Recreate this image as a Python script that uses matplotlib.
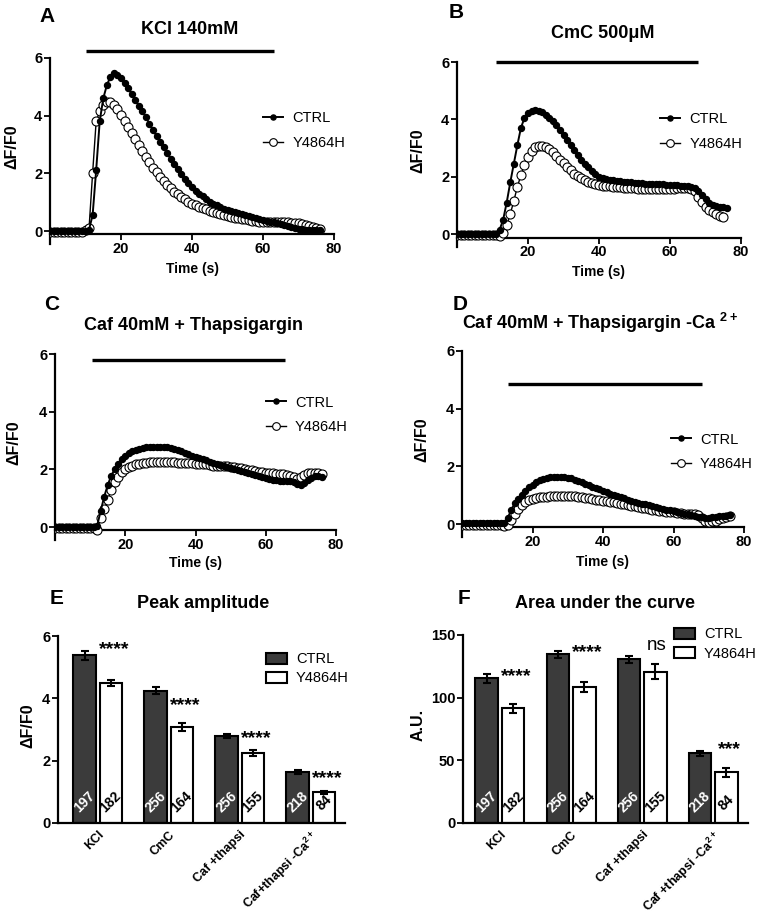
import matplotlib.pyplot as plt
from matplotlib.patches import Patch
from matplotlib.transforms import blended_transform_factory

plt.rcParams["font.family"] = ["Liberation Sans", "DejaVu Sans"]
plt.rcParams["mathtext.fontset"] = "custom"
plt.rcParams["mathtext.rm"] = "Liberation Sans"
plt.rcParams["mathtext.bf"] = "Liberation Sans:bold"
plt.rcParams["mathtext.default"] = "bf"

# ============================================
# DATA - calcium transients (dF/F0 vs time)
# ============================================

time_s = [0, 1, 2, 3, 4, 5, 6, 7, 8, 9, 10, 11, 12, 13, 14, 15, 16, 17, 18, 19,
          20, 21, 22, 23, 24, 25, 26, 27, 28, 29, 30, 31, 32, 33, 34, 35, 36, 37, 38, 39,
          40, 41, 42, 43, 44, 45, 46, 47, 48, 49, 50, 51, 52, 53, 54, 55, 56, 57, 58, 59,
          60, 61, 62, 63, 64, 65, 66, 67, 68, 69, 70, 71, 72, 73, 74, 75, 76]

kcl_ctrl = [0.0, 0.0, 0.0, 0.0, 0.0, 0.0, 0.0, 0.0, 0.0, 0.0, 0.0, 0.05, 0.55, 2.1, 3.8, 4.6,
            5.05, 5.35, 5.47, 5.42, 5.3, 5.12, 4.95, 4.75, 4.55, 4.35, 4.15, 3.95, 3.72, 3.5,
            3.3, 3.1, 2.9, 2.7, 2.5, 2.32, 2.15, 1.98, 1.82, 1.67, 1.52, 1.4, 1.3, 1.2, 1.1,
            1.02, 0.95, 0.89, 0.83, 0.78, 0.73, 0.69, 0.65, 0.61, 0.58, 0.55, 0.51, 0.48, 0.45,
            0.42, 0.39, 0.36, 0.33, 0.3, 0.27, 0.24, 0.21, 0.18, 0.15, 0.11, 0.08, 0.06, 0.05,
            0.04, 0.03, 0.03, 0.02]
kcl_mut = [-0.03, -0.03, -0.03, -0.03, -0.03, -0.03, -0.03, -0.03, -0.03, -0.03, 0.05, 0.1,
           2.0, 3.8, 4.15, 4.37, 4.48, 4.47, 4.38, 4.22, 4.02, 3.82, 3.62, 3.4, 3.18, 2.98,
           2.78, 2.57, 2.38, 2.2, 2.03, 1.88, 1.73, 1.6, 1.48, 1.37, 1.27, 1.18, 1.1, 1.02,
           0.95, 0.9, 0.85, 0.8, 0.75, 0.7, 0.66, 0.62, 0.58, 0.55, 0.52, 0.49, 0.46, 0.44,
           0.42, 0.4, 0.38, 0.36, 0.34, 0.33, 0.32, 0.31, 0.3, 0.3, 0.3, 0.3, 0.3, 0.3, 0.29,
           0.28, 0.27, 0.25, 0.22, 0.18, 0.14, 0.1, 0.07]

cmc_ctrl = [0.02, 0.02, 0.02, 0.02, 0.02, 0.02, 0.02, 0.02, 0.02, 0.02, 0.02, 0.02, 0.15, 0.5,
            1.1, 1.8, 2.45, 3.1, 3.7, 4.05, 4.22, 4.3, 4.32, 4.3, 4.24, 4.15, 4.05, 3.95, 3.8,
            3.63, 3.45, 3.28, 3.1, 2.93, 2.76, 2.6, 2.46, 2.33, 2.2, 2.08, 1.98, 1.94, 1.91,
            1.89, 1.87, 1.86, 1.84, 1.82, 1.81, 1.8, 1.79, 1.78, 1.77, 1.76, 1.76, 1.75, 1.74,
            1.73, 1.73, 1.72, 1.72, 1.71, 1.7, 1.69, 1.68, 1.66, 1.64, 1.6, 1.5, 1.36, 1.22,
            1.1, 1.03, 0.98, 0.95, 0.93, 0.92]
cmc_mut = [-0.03, -0.03, -0.03, -0.03, -0.03, -0.03, -0.03, -0.03, -0.03, -0.03, -0.03, -0.03,
           -0.05, 0.05, 0.3, 0.7, 1.15, 1.65, 2.05, 2.42, 2.7, 2.9, 3.02, 3.08, 3.07, 3.02,
           2.95, 2.85, 2.72, 2.6, 2.47, 2.35, 2.22, 2.11, 2.02, 1.94, 1.88, 1.82, 1.77, 1.73,
           1.7, 1.68, 1.67, 1.66, 1.65, 1.64, 1.63, 1.62, 1.61, 1.6, 1.59, 1.58, 1.57, 1.56,
           1.56, 1.56, 1.56, 1.56, 1.56, 1.57, 1.57, 1.58, 1.59, 1.6, 1.6, 1.6, 1.58, 1.5,
           1.3, 1.12, 0.96, 0.84, 0.76, 0.7, 0.64, 0.58]

caf_ctrl = [0.0, 0.0, 0.0, 0.0, 0.0, 0.0, 0.0, 0.0, 0.0, 0.0, 0.0, 0.0, 0.05, 0.55, 1.05, 1.45,
            1.78, 2.0, 2.2, 2.36, 2.48, 2.56, 2.62, 2.67, 2.71, 2.74, 2.76, 2.78, 2.79, 2.79,
            2.79, 2.78, 2.76, 2.73, 2.7, 2.66, 2.62, 2.58, 2.53, 2.48, 2.43, 2.39, 2.35, 2.31,
            2.27, 2.23, 2.19, 2.15, 2.12, 2.08, 2.05, 2.01, 1.97, 1.94, 1.9, 1.87, 1.83, 1.8,
            1.76, 1.73, 1.69, 1.66, 1.64, 1.62, 1.61, 1.6, 1.6, 1.59, 1.55, 1.49, 1.47, 1.52,
            1.62, 1.71, 1.77, 1.77, 1.74]
caf_mut = [-0.03, -0.03, -0.03, -0.03, -0.03, -0.03, -0.03, -0.03, -0.03, -0.03, -0.03, -0.03,
           -0.09, 0.3, 0.62, 0.95, 1.28, 1.55, 1.75, 1.9, 2.01, 2.08, 2.13, 2.17, 2.2, 2.22,
           2.23, 2.24, 2.25, 2.25, 2.25, 2.25, 2.25, 2.24, 2.24, 2.23, 2.23, 2.22, 2.22, 2.21,
           2.2, 2.19, 2.18, 2.17, 2.15, 2.13, 2.12, 2.11, 2.1, 2.1, 2.09, 2.08, 2.06, 2.03,
           2.01, 1.99, 1.97, 1.95, 1.92, 1.9, 1.88, 1.87, 1.86, 1.85, 1.84, 1.83, 1.81, 1.77,
           1.72, 1.68, 1.74, 1.8, 1.86, 1.88, 1.89, 1.87, 1.84]

cafca_ctrl = [0.02, 0.02, 0.02, 0.02, 0.02, 0.02, 0.02, 0.02, 0.02, 0.02, 0.02, 0.02, 0.02,
              0.22, 0.5, 0.72, 0.88, 1.02, 1.15, 1.27, 1.37, 1.45, 1.51, 1.56, 1.59, 1.62,
              1.63, 1.64, 1.64, 1.63, 1.61, 1.58, 1.54, 1.5, 1.45, 1.4, 1.35, 1.3, 1.25, 1.2,
              1.15, 1.1, 1.05, 1.01, 0.97, 0.93, 0.89, 0.85, 0.81, 0.78, 0.74, 0.71, 0.68,
              0.65, 0.62, 0.59, 0.56, 0.53, 0.5, 0.47, 0.44, 0.41, 0.38, 0.36, 0.34, 0.31,
              0.29, 0.26, 0.23, 0.22, 0.22, 0.23, 0.25, 0.27, 0.28, 0.29, 0.31]
cafca_mut = [-0.02, -0.02, -0.02, -0.02, -0.02, -0.02, -0.02, -0.02, -0.02, -0.02, -0.02,
             -0.02, -0.06, -0.02, 0.14, 0.35, 0.52, 0.65, 0.75, 0.82, 0.86, 0.89, 0.92, 0.94,
             0.95, 0.96, 0.97, 0.98, 0.98, 0.98, 0.97, 0.97, 0.96, 0.95, 0.93, 0.91, 0.89,
             0.87, 0.85, 0.83, 0.81, 0.79, 0.77, 0.75, 0.73, 0.7, 0.68, 0.65, 0.63, 0.61,
             0.58, 0.56, 0.54, 0.52, 0.5, 0.48, 0.46, 0.45, 0.43, 0.41, 0.4, 0.38, 0.37, 0.36,
             0.35, 0.35, 0.34, 0.32, 0.22, 0.12, 0.08, 0.09, 0.12, 0.16, 0.2, 0.24, 0.28]

# stimulus application (start s, end s, drawn level)
kcl_stim = [10, 63, 6.25]
cmc_stim = [11, 68, 6.0]
caf_stim = [10.5, 65.5, 5.8]
cafca_stim = [13, 68, 4.85]

# ============================================
# DATA - summary bars
# ============================================

conditions_e = ["KCl", "CmC", "Caf +thapsi", "Caf+thapsi -Ca$^{2+}$"]
conditions_f = ["KCl", "CmC", "Caf +thapsi", "Caf +thapsi -Ca$^{2+}$"]

peak_ctrl = [5.38, 4.25, 2.78, 1.63]
peak_ctrl_err = [0.15, 0.12, 0.06, 0.06]
peak_mut = [4.5, 3.07, 2.25, 0.99]
peak_mut_err = [0.1, 0.13, 0.1, 0.05]
peak_sig = ["****", "****", "****", "****"]
peak_sig_y = [5.43, 3.63, 2.57, 1.29]

auc_ctrl = [115.5, 134.5, 130.5, 55.5]
auc_ctrl_err = [3.5, 2.5, 3.0, 2.0]
auc_mut = [91.5, 108.5, 120.5, 40.5]
auc_mut_err = [3.5, 4.0, 6.0, 3.5]
auc_sig = ["****", "****", "ns", "***"]
auc_sig_y = [113.2, 132.2, 138.3, 55.2]

n_ctrl = [197, 256, 256, 218]
n_mut = [182, 164, 155, 84]

# ============================================
# FIGURE
# ============================================

W, H = 759, 915
fig = plt.figure(figsize=(W / 100, H / 100), dpi=100)


def px_box(l, t, r, b):
    return [l / W, 1 - b / H, (r - l) / W, (b - t) / H]


def fig_text(x, y, s, **kw):
    fig.text(x / W, 1 - y / H, s, ha="center", va="center", **kw)


def style_axes(ax, tick_size):
    ax.spines["top"].set_visible(False)
    ax.spines["right"].set_visible(False)
    ax.spines["left"].set_linewidth(1.6)
    ax.spines["bottom"].set_linewidth(1.6)
    ax.tick_params(direction="out", length=4, width=1.3, labelsize=tick_size, pad=1.5)
    for lab in ax.get_xticklabels() + ax.get_yticklabels():
        lab.set_fontweight("bold")


# ============================================
# TIME COURSE PANELS (A-D)
# ============================================

panels = [
    dict(box=(50, 58, 334, 244), ctrl=kcl_ctrl, mut=kcl_mut, stim=kcl_stim,
         title="KCl 140mM", title_xy=(190, 30), letter="A", letter_xy=(47, 17),
         leg=(0.75, 0.61), ylab_x=12, xlab_y=269),
    dict(box=(457, 62, 741, 247), ctrl=cmc_ctrl, mut=cmc_mut, stim=cmc_stim,
         title="CmC 500μM", title_xy=(603, 33), letter="B", letter_xy=(456, 12),
         leg=(0.715, 0.625), ylab_x=418, xlab_y=272),
    dict(box=(55, 354, 336, 540), ctrl=caf_ctrl, mut=caf_mut, stim=caf_stim,
         title="Caf 40mM + Thapsigargin", title_xy=(194, 325), letter="C",
         letter_xy=(52, 305), leg=(0.75, 0.672), ylab_x=14, xlab_y=563),
    dict(box=(462, 351, 744, 537), ctrl=cafca_ctrl, mut=cafca_mut, stim=cafca_stim,
         title="Caf 40mM + Thapsigargin -Ca $^{2+}$", title_xy=(600, 323), letter="D",
         letter_xy=(460, 305), leg=(0.74, 0.457), ylab_x=422, xlab_y=562),
]

for p in panels:
    ax = fig.add_axes(px_box(*p["box"]))
    ax.plot(time_s[:len(p["mut"])], p["mut"], color="black", lw=1.0, marker="o", ms=6.5,
            mfc="white", mec="black", mew=0.8, zorder=3, label="Y4864H")
    ax.plot(time_s[:len(p["ctrl"])], p["ctrl"], color="black", lw=1.4, marker="o", ms=4.3,
            mfc="black", mec="black", zorder=4, label="CTRL")
    s0, s1, lvl = p["stim"]
    ax.plot([s0, s1], [lvl, lvl], color="black", lw=2.4, solid_capstyle="butt", clip_on=False)
    ax.set_xlim(0, 80)
    ax.set_ylim(-0.45, 6)
    ax.set_xticks([20, 40, 60, 80])
    ax.set_yticks([0, 2, 4, 6])
    ax.spines["bottom"].set_position(("data", -0.12))
    style_axes(ax, 10.5)
    handles, labels = ax.get_legend_handles_labels()
    ax.legend(handles[::-1], labels[::-1], loc="center left", bbox_to_anchor=p["leg"],
              frameon=False, fontsize=10.5, handlelength=1.4, handletextpad=0.6,
              labelspacing=0.75, borderpad=0, borderaxespad=0, markerscale=0.85)
    l, t, r, b = p["box"]
    fig_text(*p["title_xy"], p["title"], fontsize=13, fontweight="bold")
    fig_text(*p["letter_xy"], p["letter"], fontsize=15, fontweight="bold")
    fig_text(p["ylab_x"], (t + b) / 2 - 4, "ΔF/F0", fontsize=11.5, fontweight="bold", rotation=90)
    fig_text((l + r) / 2, p["xlab_y"], "Time (s)", fontsize=10, fontweight="bold")

# ============================================
# BAR PANELS (E-F)
# ============================================

bars = [
    dict(box=(58, 636, 345, 823), xlim=(-0.56, 3.48), ylim=(0, 6), yticks=[0, 2, 4, 6],
         ctrl=peak_ctrl, ctrl_err=peak_ctrl_err, mut=peak_mut, mut_err=peak_mut_err,
         sig=peak_sig, sig_y=peak_sig_y, names=conditions_e, ylabel="ΔF/F0", ylab_x=28,
         title="Peak amplitude", title_xy=(203, 604), letter="E", letter_xy=(57, 599),
         leg=(0.725, 0.825)),
    dict(box=(463, 635, 748, 823), xlim=(-0.52, 3.49), ylim=(0, 150),
         yticks=[0, 50, 100, 150], ctrl=auc_ctrl, ctrl_err=auc_ctrl_err, mut=auc_mut,
         mut_err=auc_mut_err, sig=auc_sig, sig_y=auc_sig_y, names=conditions_f,
         ylabel="A.U.", ylab_x=418, title="Area under the curve", title_xy=(605, 604),
         letter="F", letter_xy=(464, 598), leg=(0.74, 0.952)),
]

width = 0.32
offset = 0.185
ctrl_color = "#3b3b3b"
err_kw = dict(elinewidth=1.5, capthick=1.5, ecolor="black", capsize=3)

for p in bars:
    ax = fig.add_axes(px_box(*p["box"]))
    idx = list(range(len(p["ctrl"])))
    xc = [i - offset for i in idx]
    xm = [i + offset for i in idx]
    ax.bar(xc, p["ctrl"], width, color=ctrl_color, edgecolor="black", lw=1.5,
           yerr=p["ctrl_err"], error_kw=err_kw, zorder=2)
    ax.bar(xm, p["mut"], width, color="white", edgecolor="black", lw=1.5,
           yerr=p["mut_err"], error_kw=err_kw, zorder=2)
    trans = blended_transform_factory(ax.transData, ax.transAxes)
    for i in idx:
        ax.text(xc[i], 0.11, str(n_ctrl[i]), transform=trans, rotation=45, ha="center",
                va="center", color="white", fontsize=10, fontweight="bold", zorder=5)
        ax.text(xm[i], 0.11, str(n_mut[i]), transform=trans, rotation=45, ha="center",
                va="center", color="black", fontsize=10, fontweight="bold", zorder=5)
        s = p["sig"][i]
        if s == "ns":
            ax.text(xm[i] + 0.02, p["sig_y"][i], s, ha="center", va="baseline",
                    fontsize=13.5, fontweight="normal", clip_on=False)
        else:
            ax.text(xm[i] + 0.04, p["sig_y"][i], s, ha="center", va="baseline",
                    fontsize=14, fontweight="bold", clip_on=False)
    ax.set_xlim(*p["xlim"])
    ax.set_ylim(*p["ylim"])
    ax.set_yticks(p["yticks"])
    ax.set_xticks(idx)
    ax.set_xticklabels(p["names"], rotation=45, ha="right", rotation_mode="anchor")
    style_axes(ax, 10.5)
    ax.tick_params(axis="x", length=0, labelsize=9, pad=4)
    handles = [Patch(facecolor=ctrl_color, edgecolor="black", lw=1.5),
               Patch(facecolor="white", edgecolor="black", lw=1.5)]
    ax.legend(handles, ["CTRL", "Y4864H"], loc="center left", bbox_to_anchor=p["leg"],
              frameon=False, fontsize=10.5, handlelength=1.45, handleheight=0.8,
              handletextpad=0.6, labelspacing=0.35, borderpad=0, borderaxespad=0)
    l, t, r, b = p["box"]
    fig_text(*p["title_xy"], p["title"], fontsize=13, fontweight="bold")
    fig_text(*p["letter_xy"], p["letter"], fontsize=15, fontweight="bold")
    fig_text(p["ylab_x"], (t + b) / 2 - 4, p["ylabel"], fontsize=11.5, fontweight="bold",
             rotation=90)

fig.savefig("out.png", dpi=100)
